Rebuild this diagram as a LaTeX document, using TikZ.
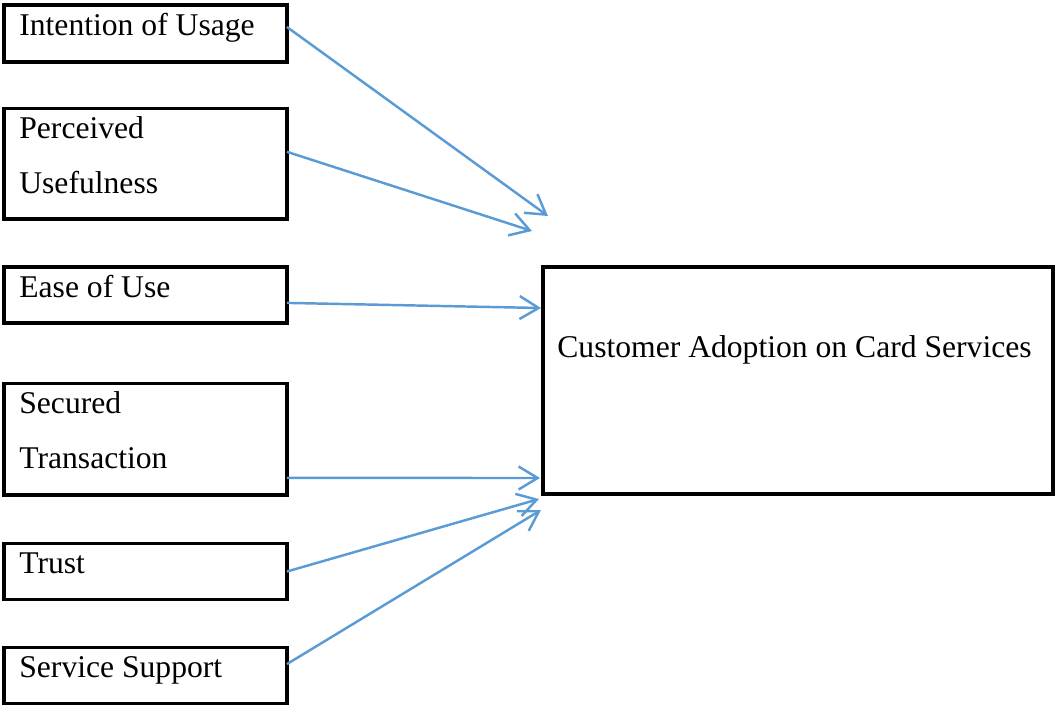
\documentclass[tikz,border=0pt]{standalone}
\usepackage{fontspec}
\setmainfont{Liberation Serif}
\usetikzlibrary{arrows.meta,positioning,calc}
\definecolor{linkblue}{HTML}{5B9BD5}
\tikzset{
      factor/.style   = {draw, line width=2pt, minimum width=5.66cm, anchor=north west, inner sep=0pt, outer sep=0pt},
      outcome/.style  = {draw, line width=2pt, minimum width=10.2cm, minimum height=4.54cm, anchor=north west, inner sep=0pt, outer sep=0pt},
      boxtext/.style  = {anchor=base west, align=left, inner sep=0pt, font=\fontsize{18}{31.2}\selectfont},
      link/.style     = {linkblue, line width=1.4pt, -{Straight Barb[length=0.38cm, width=0.46cm]}},
    }

\begin{document}
\begin{tikzpicture}[x=0.02cm, y=-0.02cm]
          \useasboundingbox (0,0) rectangle (1055,707);
          % factor boxes
          \node [factor, minimum height=1.14cm] (intent) at (4,5) {};
          \node [factor, minimum height=2.21cm] (useful) at (4,108.5) {};
          \node [factor, minimum height=1.12cm] (ease) at (4,267) {};
          \node [factor, minimum height=2.23cm] (secure) at (4,383.5) {};
          \node [factor, minimum height=1.12cm] (trust) at (4,543.5) {};
          \node [factor, minimum height=1.12cm] (support) at (4,647.5) {};
          \node [outcome] (adopt) at (543,267) {};

          % labels (two-line ones sit on their last baseline)
          \node [boxtext] (intenttext) at (19,35) {Intention of Usage};
          \node [boxtext] (usefultext) at (19,193) {Perceived\\Usefulness};
          \node [boxtext] (easetext) at (19,297) {Ease of Use};
          \node [boxtext] (securetext) at (19,468) {Secured\\Transaction};
          \node [boxtext] (trusttext) at (19,573) {Trust};
          \node [boxtext] (supporttext) at (19,677) {Service Support};
          \node [boxtext] (adopttext) at (557,357) {Customer Adoption on Card Services};

          % arrow ends
          \coordinate (e1) at (548,216);
          \coordinate (e2) at (532,231);
          \coordinate (e3) at (541,308);
          \coordinate (e4) at (540,478);
          \coordinate (e5) at (539,499);
          \coordinate (e6) at (541,510);

          \draw [link] ([yshift=3.7pt]intent.east) -- (e1);
          \draw [link] ([yshift=6.8pt]useful.east) -- (e2);
          \draw [link] ([yshift=-4.5pt]ease.east) -- (e3);
          \draw [link] ([yshift=-22pt]secure.east) -- (e4);
          \draw [link] (trust.east) -- (e5);
          \draw [link] ([yshift=6.5pt]support.east) -- (e6);
\end{tikzpicture}
\end{document}
